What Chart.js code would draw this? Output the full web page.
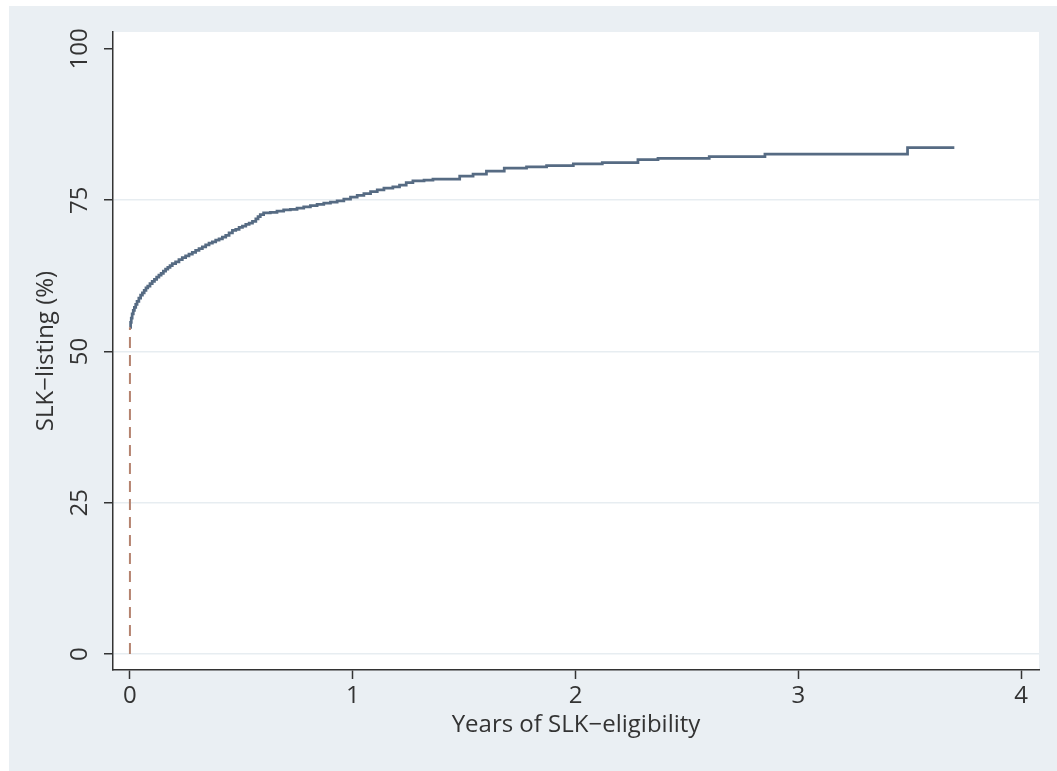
<!DOCTYPE html>
<html>
<head>
<meta charset="utf-8">
<script src="https://cdn.jsdelivr.net/npm/chart.js@4.4.1/dist/chart.umd.min.js"></script>
<style>
  html, body { margin: 0; padding: 0; background: #ffffff; }
  #frame {
    position: absolute; left: 9px; top: 6px;
    width: 1048px; height: 765px;
    background: #eaeff3;
  }
  #chart { display: block; }
</style>
</head>
<body>
<div id="frame"><canvas id="chart" width="1048" height="765"></canvas></div>
<script>
// Cumulative SLK-listing (%) by years since eligibility (step curve)
const years = [
  0, 0.003, 0.006, 0.01, 0.015, 0.02, 0.026, 0.032, 0.04, 0.048,
  0.056, 0.064, 0.072, 0.08, 0.09, 0.10, 0.11, 0.12, 0.13, 0.14,
  0.15, 0.16, 0.17, 0.18, 0.19, 0.205, 0.22, 0.235, 0.25, 0.265,
  0.28, 0.295, 0.31, 0.325, 0.34, 0.355, 0.37, 0.385, 0.40, 0.415,
  0.43, 0.445, 0.46, 0.475, 0.49, 0.505, 0.52, 0.535, 0.55, 0.565,
  0.575, 0.585, 0.60, 0.63, 0.66, 0.69, 0.72, 0.75, 0.78, 0.81,
  0.84, 0.87, 0.90, 0.93, 0.96, 0.99, 1.02, 1.05, 1.08, 1.11,
  1.14, 1.18, 1.21, 1.24, 1.27, 1.32, 1.36, 1.48, 1.54, 1.60,
  1.68, 1.78, 1.87, 1.99, 2.12, 2.28, 2.37, 2.60, 2.85, 3.49,
  3.70
];
const listedPct = [
  54.0, 54.8, 55.5, 56.2, 56.8, 57.3, 57.8, 58.3, 58.8, 59.3,
  59.7, 60.1, 60.5, 60.8, 61.2, 61.6, 61.9, 62.3, 62.6, 62.9,
  63.3, 63.6, 63.9, 64.2, 64.5, 64.8, 65.2, 65.5, 65.8, 66.1,
  66.4, 66.7, 67.0, 67.3, 67.6, 67.9, 68.1, 68.4, 68.6, 68.9,
  69.2, 69.6, 70.0, 70.2, 70.5, 70.7, 71.0, 71.2, 71.5, 71.9,
  72.3, 72.6, 72.9, 73.0, 73.2, 73.4, 73.5, 73.7, 73.9, 74.1,
  74.3, 74.5, 74.7, 74.9, 75.2, 75.5, 75.8, 76.1, 76.4, 76.7,
  77.0, 77.2, 77.5, 77.9, 78.2, 78.3, 78.5, 79.0, 79.3, 79.8,
  80.3, 80.5, 80.7, 81.0, 81.2, 81.7, 81.9, 82.2, 82.6, 83.7,
  83.7
];
// Dropline from zero up to the value at time 0
const dropYears = [0, 0];
const dropPct = [0, 54.0];

const xTicks = [0, 1, 2, 3, 4];
const yTicks = [0, 25, 50, 75, 100];

const curvePoints = years.map((t, i) => ({ x: t, y: listedPct[i] }));
const dropPoints = dropYears.map((t, i) => ({ x: t, y: dropPct[i] }));

const FONT = 'Open Sans';
const INK = '#333333';
const SIZE = 24;

// White plot region behind the data
const plotBackground = {
  id: 'plotBackground',
  beforeDraw(chart) {
    const { ctx, chartArea: a } = chart;
    ctx.save();
    ctx.fillStyle = '#ffffff';
    ctx.fillRect(a.left, a.top, a.right - a.left, a.bottom - a.top);
    ctx.restore();
  }
};

new Chart(document.getElementById('chart'), {
  type: 'line',
  data: {
    datasets: [
      {
        data: dropPoints,
        borderColor: '#b5836f',
        borderWidth: 2,
        borderDash: [11, 7],
        pointRadius: 0,
        fill: false
      },
      {
        data: curvePoints,
        borderColor: '#566b83',
        borderWidth: 2.75,
        stepped: 'before',
        pointRadius: 0,
        fill: false
      }
    ]
  },
  plugins: [plotBackground],
  options: {
    responsive: false,
    animation: false,
    layout: { padding: { left: 0, top: 26, right: 18, bottom: 0 } },
    plugins: {
      legend: { display: false },
      tooltip: { enabled: false }
    },
    scales: {
      x: {
        type: 'linear',
        min: -0.076,
        max: 4.08,
        afterBuildTicks: s => { s.ticks = xTicks.map(v => ({ value: v })); },
        afterFit: s => { s.height = 101; },
        border: { color: INK, width: 1.5 },
        grid: {
          drawOnChartArea: false,
          drawTicks: true,
          tickLength: 9,
          tickColor: INK,
          tickWidth: 1.5
        },
        ticks: {
          padding: 3,
          color: INK,
          font: { family: FONT, size: SIZE },
          maxRotation: 0,
          minRotation: 0
        },
        title: {
          display: true,
          text: 'Years of SLK\u2212eligibility',
          color: INK,
          font: { family: FONT, size: SIZE },
          padding: { top: 0, bottom: 31 }
        }
      },
      y: {
        type: 'linear',
        min: -2.64,
        max: 102.8,
        afterBuildTicks: s => { s.ticks = yTicks.map(v => ({ value: v })); },
        afterFit: s => { s.width = 104; },
        border: { color: INK, width: 1.5 },
        grid: {
          color: c => (c.tick && c.tick.value === 100) ? 'rgba(0,0,0,0)' : '#e7edf1',
          lineWidth: 1.5,
          drawTicks: true,
          tickLength: 9,
          tickColor: INK,
          tickWidth: 1.5
        },
        ticks: {
          padding: 3,
          color: INK,
          crossAlign: 'center',
          minRotation: 90,
          maxRotation: 90,
          font: { family: FONT, size: SIZE }
        },
        title: {
          display: true,
          text: 'SLK\u2212listing (%)',
          color: INK,
          font: { family: FONT, size: SIZE },
          padding: { top: 23, bottom: 0 }
        }
      }
    }
  }
});
</script>
</body>
</html>
